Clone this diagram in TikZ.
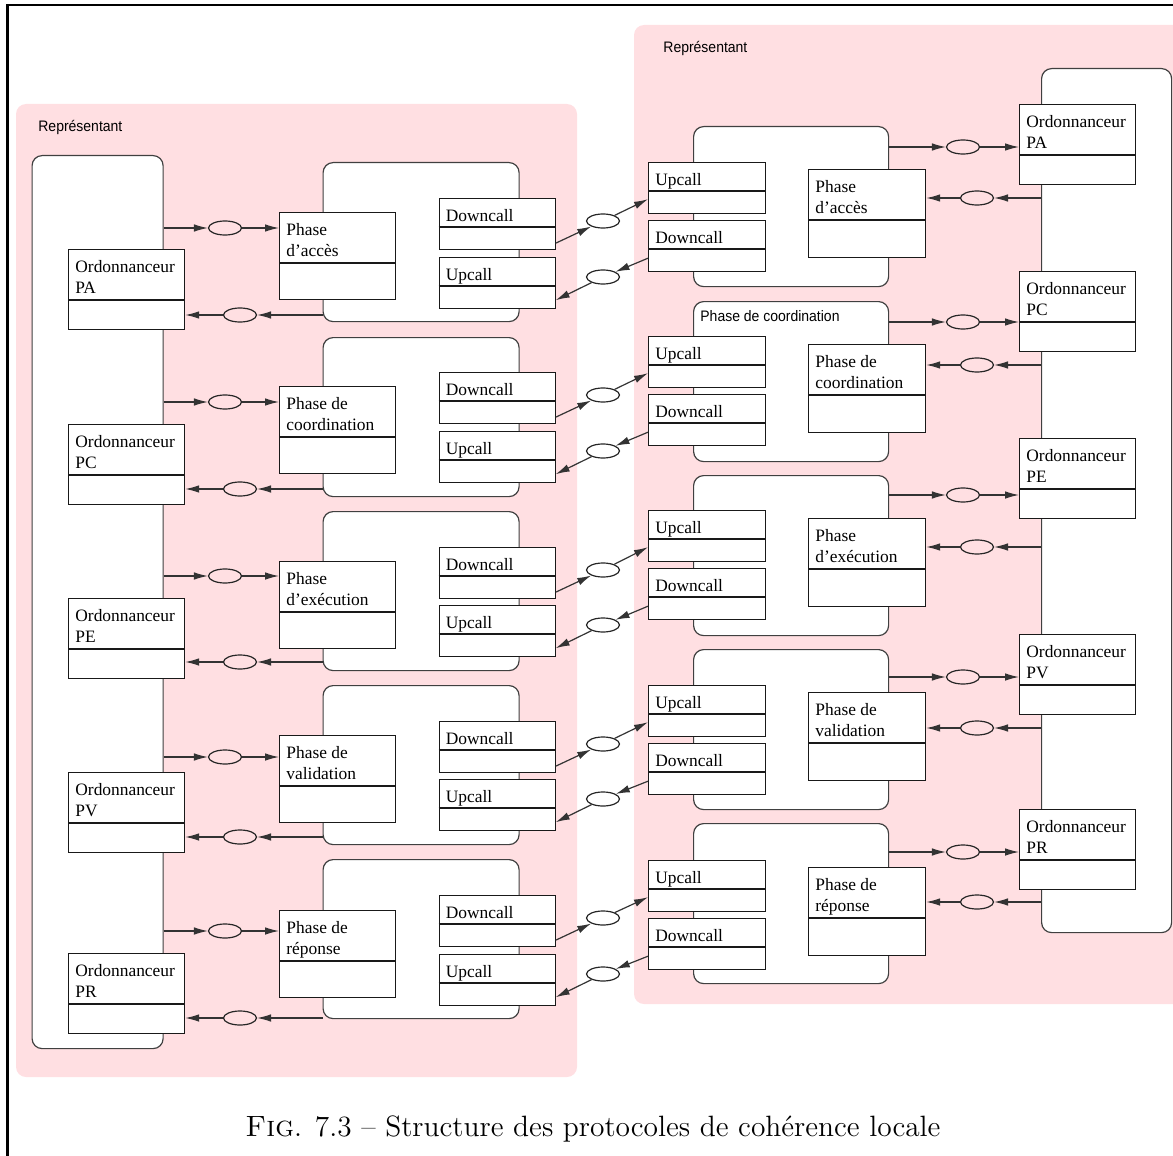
\documentclass[tikz,border=0pt]{standalone}
\usepackage{fontspec}
\newfontfamily\serifbox{Liberation Serif}
\newfontfamily\sanslab[FakeStretch=0.92]{Liberation Sans}
\usetikzlibrary{shapes.geometric,arrows.meta,calc}
\definecolor{pinkbg}{RGB}{255,223,226}
\newcommand{\boxtextfont}{\serifbox\fontsize{8.7}{10.5}\selectfont}
% #1 name, #2 x left, #3 y top, #4 width px, #5 height px, #6 divider px, #7 text
\newcommand{\umlbox}[7]{%
  \node[umlframe, minimum width=#4*0.5pt, minimum height=#5*0.5pt] (#1) at (#2,#3) {};
  \draw[umlline] ([yshift=-#6*0.5pt]#1.north west) -- ([yshift=-#6*0.5pt]#1.north east);
  \node[umltext] (#1t) at ([xshift=3.5pt,yshift=-5.5pt]#1.north west) {#7};
}
\begin{document}
\begin{tikzpicture}[x=0.5pt,y=-0.5pt,
  pinkarea/.style={fill=pinkbg, rounded corners=5pt},
  cont/.style={draw=black!75, fill=white, line width=0.6pt, rounded corners=5pt,
    anchor=north west, inner sep=0pt},
  umlframe/.style={draw=black!90, fill=white, line width=0.6pt, anchor=north west, inner sep=0pt},
  umlline/.style={draw=black!90, line width=0.6pt},
  umltext/.style={anchor=north west, inner sep=0pt, align=left, font=\boxtextfont},
  sanstext/.style={anchor=base west, inner sep=0pt, font=\sanslab\fontsize{7.6}{9}\selectfont},
  ell/.style={draw=black!85, ellipse, minimum width=16.5pt, minimum height=7pt, inner sep=0pt, line width=0.6pt},
  arr/.style={draw=black!80, line width=0.6pt, -{Latex[length=7pt,width=3.8pt]}}
]
\useasboundingbox (0,0) rectangle (1173,1156);
\clip (0,0) rectangle (1173,1156);

% frame
\draw[line width=1.4pt] (7.5,1160) -- (7.5,5) -- (1180,5);

% pink areas
\fill[pinkarea] (16,104) rectangle (577,1077);
\fill[pinkarea] (634,25) rectangle (1200,1004);
\node[sanstext] (lrep) at (38,132) {Représentant};
\node[sanstext] (rrep) at (663,53) {Représentant};

% scheduler containers
\node[cont, minimum width=65.5pt, minimum height=446.5pt] (lsc) at (31.5,155) {};
\node[cont, minimum width=65pt, minimum height=432pt] (rsc) at (1041,68) {};

% ---------- left side ----------
\foreach \i/\ct/\pt/\dt/\ut/\ta/\ba/\txt in {
  1/162/212/198/257/228/315/{Phase\\d’accès},
  2/337/386/372/431/402/489/{Phase de\\coordination},
  3/511/561/547/605/576/662/{Phase\\d’exécution},
  4/685/735/721/779/757/837/{Phase de\\validation},
  5/859/910/895/954/931/1018/{Phase de\\réponse}}{
  \node[cont, minimum width=98pt, minimum height=79.5pt] (lpc\i) at (322.5,\ct) {};
  \umlbox{lph\i}{279}{\pt}{116}{87}{51}{\txt}
  \umlbox{ldc\i}{438.5}{\dt}{116}{51}{29}{Downcall}
  \umlbox{lup\i}{438.5}{\ut}{116}{51}{29}{Upcall}
  \node[ell] (lte\i) at (225,\ta) {};
  \node[ell] (lbe\i) at (240,\ba) {};
}
\foreach \i/\t/\lab in {1/249/PA, 2/424/PC, 3/598/PE, 4/772/PV, 5/953/PR}{
  \umlbox{ls\i}{68}{\t}{116}{80}{51}{Ordonnanceur\\\lab}
}

% ---------- right side ----------
\foreach \i/\ct/\pt/\ut/\ta/\ba/\txt in {
  1/126/169/162/147/198/{Phase\\d’accès},
  2/301/344/336/322/365/{Phase de\\coordination},
  3/475/518/510/495/547/{Phase\\d’exécution},
  4/649/692/685/677/728/{Phase de\\validation},
  5/823/867/860/852/902/{Phase de\\réponse}}{
  \node[cont, minimum width=97.5pt, minimum height=80pt] (rpc\i) at (693,\ct) {};
  \umlbox{rph\i}{808}{\pt}{117}{88}{51}{\txt}
  \umlbox{rup\i}{648}{\ut}{117}{51}{29}{Upcall}
  \umlbox{rdc\i}{648}{\ut+58}{117}{51}{29}{Downcall}
  \node[ell] (rte\i) at (963,\ta) {};
  \node[ell] (rbe\i) at (977,\ba) {};
}
\node[sanstext] (coordlab) at (700,321) {Phase de coordination};
\foreach \i/\t/\lab in {1/104/PA, 2/271/PC, 3/438/PE, 4/634/PV, 5/809/PR}{
  \umlbox{rs\i}{1019}{\t}{116}{80}{51}{Ordonnanceur\\\lab}
}

% ---------- connectors ----------
\foreach \i/\dt/\ut in {1/198/257, 2/372/431, 3/547/605, 4/721/779, 5/895/954}{
  % left side
  \draw[arr] (lsc.east |- lte\i) -- (lte\i);
  \draw[arr] (lte\i) -- (lph\i.west |- lte\i);
  \draw[arr] (lpc\i.west |- lbe\i) -- (lbe\i);
  \draw[arr] (lbe\i) -- (ls\i.east |- lbe\i);
  % right side
  \draw[arr] (rpc\i.east |- rte\i) -- (rte\i);
  \draw[arr] (rte\i) -- (rs\i.west |- rte\i);
  \draw[arr] (rsc.west |- rbe\i) -- (rbe\i);
  \draw[arr] (rbe\i) -- (rph\i.east |- rbe\i);
  % middle
  \node[ell] (mu\i) at (603,\dt+23) {};
  \node[ell] (ml\i) at (603,\ut+20) {};
  \draw[arr] ([yshift=3.5pt]ldc\i.south east) -- (mu\i);
  \draw[arr] (mu\i) -- ([yshift=7.5pt]rup\i.south west);
  \draw[arr] ([yshift=7pt]rdc\i.south west) -- (ml\i);
  \draw[arr] (ml\i) -- ([yshift=4.5pt]lup\i.south east);
}

% caption
\node[anchor=base, inner sep=0pt, font=\fontsize{14.7}{17}\selectfont] (cap) at (593,1136)
  {\textsc{Fig}. 7.3 – Structure des protocoles de cohérence locale};
\end{tikzpicture}
\end{document}
